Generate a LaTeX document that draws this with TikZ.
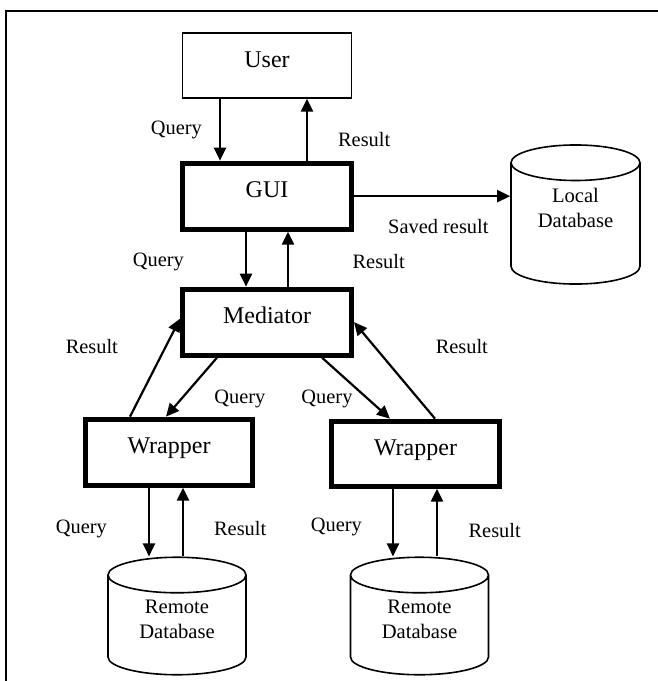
\documentclass[tikz,border=0pt]{standalone}
\usepackage{fontspec}
\setmainfont{Liberation Serif}
\usetikzlibrary{positioning, shapes.geometric, arrows.meta}
\tikzset{
    >={Triangle[length=6.5pt, width=6pt]}, % filled arrow heads
    flow/.style={->, line width=1.1pt}, % every query / result arrow
    box/.style={draw, line width=0.65pt, minimum width=84.5pt, minimum height=32.5pt,
        font=\fontsize{12}{14}\selectfont, text height=0.7em, text depth=0.55em}, % plain box
    thickbox/.style={box, line width=2.5pt, minimum height=33pt}, % bold framed box
    db/.style={cylinder, shape border rotate=90, aspect=0.4, draw, line width=0.8pt,
        minimum width=69pt, minimum height=57pt, align=center, anchor=shape center,
        text depth=9.5pt, font=\fontsize{10.3}{12.6}\selectfont}, % database drum
    lbl/.style={inner sep=0pt, font=\fontsize{10.2}{12}\selectfont}, % arrow labels
}

\begin{document}
\begin{tikzpicture}[x=1pt, y=1pt]
\useasboundingbox (0,0) rectangle (329,-340.5);
% frame
\draw[line width=1pt] (329,-5.25) -- (2.75,-5.25) -- (2.75,-340.5);

\node[box] (user) at (133.5,-32.75) {User};
\node[thickbox, below=31pt of user] (gui) {GUI};
\node[thickbox, below=27.5pt of gui] (med) {Mediator};
\node[thickbox, minimum width=83.5pt, below=29.5pt of med, xshift=-49pt] (wrapL) {Wrapper};
\node[thickbox, minimum width=84pt, minimum height=32.5pt, below=30.5pt of med, xshift=74.25pt] (wrapR) {Wrapper};
\node[db] (dbL) at (88.5,-308) {Remote\\Database};
\node[db] (dbR) at (209.75,-308) {Remote\\Database};
\node[db, minimum width=64.5pt, minimum height=66.5pt, text depth=20pt] (local) at (287.75,-107.25) {Local\\Database};

% user <-> gui
\draw[flow] ([xshift=-23.5pt]user.south) -- node[lbl, left=8.5pt]{Query} ([xshift=-23.5pt]gui.north);
\draw[flow] ([xshift=20pt]gui.north) -- node[lbl, pos=0.34, right=15pt]{Result} ([xshift=20pt]user.south);
\draw[flow] (gui.east) -- node[lbl, pos=0.54, below=11pt]{Saved result} (gui.east -| local.west);
% gui <-> mediator
\draw[flow] ([xshift=-10.5pt]gui.south) -- node[lbl, pos=0.55, left=30.5pt]{Query} ([xshift=-10.5pt]med.north);
\draw[flow] ([xshift=10.5pt]med.north) -- node[lbl, pos=0.45, right=31.75pt]{Result} ([xshift=10.5pt]gui.south);
% mediator <-> wrappers
\draw[flow] ([xshift=-25pt]med.south) -- node[lbl, pos=0.7, right=16pt]{Query} ([xshift=-1.5pt]wrapL.north);
\draw[flow] ([xshift=-19.5pt]wrapL.north) -- node[lbl, pos=0.72, left=23.5pt]{Result} ([yshift=1.75pt]med.west);
\draw[flow] ([xshift=27.5pt]med.south) -- node[lbl, pos=0.67, left=7pt]{Query} ([xshift=-12.75pt]wrapR.north);
\draw[flow] ([xshift=9.75pt]wrapR.north) -- node[lbl, pos=0.745, right=30pt]{Result} (med.east);
% wrappers <-> remote databases
\draw[flow] ([xshift=-10pt]wrapL.south) -- node[lbl, pos=0.6, left=20.5pt]{Query} ([xshift=-10pt]wrapL.south |- dbL.north);
\draw[flow] ([xshift=7pt]wrapL.south |- dbL.north) -- node[lbl, pos=0.4, right=15pt]{Result} ([xshift=7pt]wrapL.south);
\draw[flow] ([xshift=-11.25pt]wrapR.south) -- node[lbl, pos=0.57, left=15pt]{Query} ([xshift=-11.25pt]wrapR.south |- dbR.north);
\draw[flow] ([xshift=10.75pt]wrapR.south |- dbR.north) -- node[lbl, pos=0.38, right=15.25pt]{Result} ([xshift=10.75pt]wrapR.south);
\end{tikzpicture}
\end{document}
